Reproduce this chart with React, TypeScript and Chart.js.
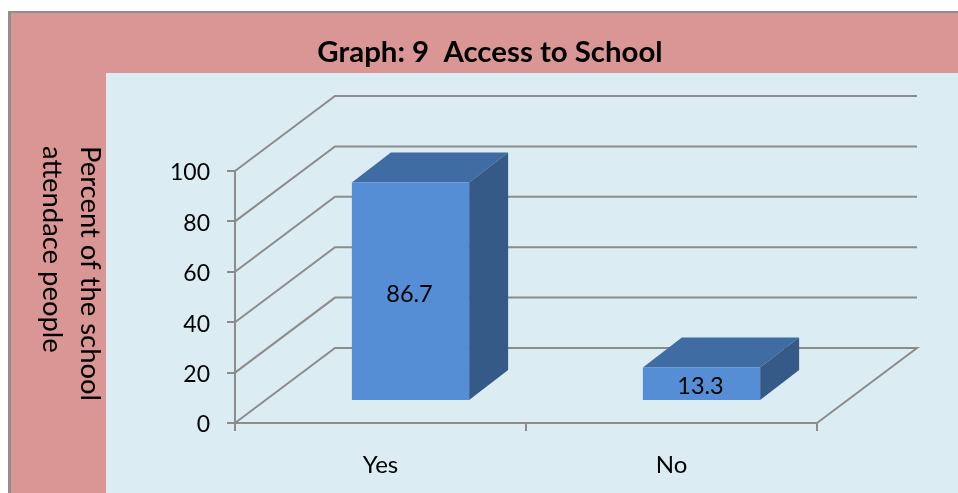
import React, { useEffect, useRef } from "react";
import { Chart, registerables } from "chart.js";

Chart.register(...registerables);

const categories = ["Yes", "No"];
const attendance = [86.7, 13.3];
const valueTicks = [0, 20, 40, 60, 80, 100];
const chartTitle = "Graph: 9  Access to School";
const axisTitleLines = ["Percent of the school", "attendace people"];

const FONT = "Lato, Carlito, 'Open Sans', sans-serif";
const PINK = "#d99694";
const PANEL = "#dbedf3";
const FRAME = "#8f8f8f";
const GRID = "#8c8c8c";
const BAR_FRONT = "#558ed5";
const BAR_TOP = "#3f6ca3";
const BAR_SIDE = "#365a87";

// Oblique projection of the floor and of the columns standing on it.
const FLOOR_DX = 100;
const FLOOR_DY = 75;
const BAR_INSET_DX = 30;
const BAR_INSET_DY = 22;
const BAR_DX = 39;
const BAR_DY = 30;

function face(ctx: CanvasRenderingContext2D, pts: number[][], fill: string) {
  ctx.beginPath();
  pts.forEach(([x, y], i) => (i ? ctx.lineTo(x, y) : ctx.moveTo(x, y)));
  ctx.closePath();
  ctx.fillStyle = fill;
  ctx.fill();
}

const panelPlugin = {
  id: "panel",
  beforeDraw(chart: any) {
    const { ctx, width, height } = chart;
    ctx.save();
    ctx.fillStyle = "#ffffff";
    ctx.fillRect(0, 0, width, height);
    ctx.fillStyle = FRAME;
    ctx.fillRect(8, 11, width - 8, height - 11);
    ctx.fillStyle = PINK;
    ctx.fillRect(11, 13, width - 11, height - 13);
    ctx.fillStyle = PANEL;
    ctx.fillRect(106, 73, width - 106, height - 73);
    ctx.fillStyle = "#000000";
    ctx.textBaseline = "middle";
    ctx.textAlign = "center";
    ctx.font = `bold 29.4px ${FONT}`;
    ctx.fillText(chartTitle, 490, 53);
    ctx.font = `27.4px ${FONT}`;
    ctx.textAlign = "left";
    axisTitleLines.forEach((line, i) => {
      ctx.save();
      ctx.translate(90 - i * 38, 146);
      ctx.rotate(Math.PI / 2);
      ctx.fillText(line, 0, 0);
      ctx.restore();
    });
    ctx.restore();
  },
};

const depthPlugin = {
  id: "depth",
  beforeDatasetsDraw(chart: any) {
    const { ctx, chartArea, scales } = chart;
    const { left, right } = chartArea;
    ctx.save();
    ctx.strokeStyle = GRID;
    ctx.lineWidth = 2;
    ctx.lineJoin = "miter";
    valueTicks.forEach((v) => {
      const y = scales.y.getPixelForValue(v);
      ctx.beginPath();
      ctx.moveTo(left, y);
      ctx.lineTo(left + FLOOR_DX, y - FLOOR_DY);
      ctx.lineTo(right + FLOOR_DX, y - FLOOR_DY);
      if (v === 0) ctx.lineTo(right, y);
      ctx.stroke();
    });

    // Top and side faces come first; the front face is drawn by the bar element.
    chart.getDatasetMeta(0).data.forEach((bar: any) => {
      const { x, y, base, width } = bar.getProps(["x", "y", "base", "width"], true);
      const l = x - width / 2 + BAR_INSET_DX;
      const r = x + width / 2 + BAR_INSET_DX;
      const t = y - BAR_INSET_DY;
      const b = base - BAR_INSET_DY;
      face(ctx, [[l, t], [r, t], [r + BAR_DX, t - BAR_DY], [l + BAR_DX, t - BAR_DY]], BAR_TOP);
      face(ctx, [[r, t], [r + BAR_DX, t - BAR_DY], [r + BAR_DX, b - BAR_DY], [r, b]], BAR_SIDE);
    });
    ctx.restore();

    ctx.save();
    ctx.translate(BAR_INSET_DX, -BAR_INSET_DY);
  },
  afterDatasetsDraw(chart: any) {
    const { ctx } = chart;
    ctx.restore();
    ctx.save();
    ctx.fillStyle = "#000000";
    ctx.font = `23.5px ${FONT}`;
    ctx.textAlign = "center";
    ctx.textBaseline = "middle";
    chart.getDatasetMeta(0).data.forEach((bar: any, i: number) => {
      const { x, y, base } = bar.getProps(["x", "y", "base"], true);
      ctx.fillText(String(attendance[i]), x + BAR_INSET_DX - 1, (y + base) / 2 - BAR_INSET_DY + 3);
    });
    ctx.restore();
  },
};

export default function App() {
  const canvasRef = useRef<HTMLCanvasElement | null>(null);

  useEffect(() => {
    document.body.style.margin = "0";
    const chart = new Chart(canvasRef.current as HTMLCanvasElement, {
      type: "bar",
      data: {
        labels: categories,
        datasets: [
          {
            data: attendance,
            backgroundColor: BAR_FRONT,
            borderWidth: 0,
            barPercentage: 1,
            categoryPercentage: 0.403,
            clip: false,
          },
        ],
      },
      options: {
        responsive: false,
        animation: false,
        layout: { padding: { top: 171, right: 141, left: 0, bottom: 0 } },
        plugins: { legend: { display: false }, title: { display: false }, tooltip: { enabled: false } },
        scales: {
          x: {
            afterFit: (s: any) => {
              s.height = 70;
            },
            border: { color: GRID, width: 2 },
            grid: { drawOnChartArea: false, color: GRID, lineWidth: 2, tickLength: 8 },
            ticks: { color: "#000000", font: { family: FONT, size: 24 }, padding: 20 },
          },
          y: {
            min: 0,
            max: 100,
            afterFit: (s: any) => {
              s.width = 235;
            },
            afterBuildTicks: (s: any) => {
              s.ticks = valueTicks.map((value) => ({ value }));
            },
            border: { color: GRID, width: 2 },
            grid: { drawOnChartArea: false, color: GRID, lineWidth: 2, tickLength: 8 },
            ticks: { color: "#000000", font: { family: FONT, size: 23 }, padding: 17, labelOffset: 2 },
          },
        },
      },
      plugins: [panelPlugin, depthPlugin],
    } as any);
    return () => chart.destroy();
  }, []);

  return <canvas ref={canvasRef} width={958} height={493} style={{ display: "block" }} />;
}
